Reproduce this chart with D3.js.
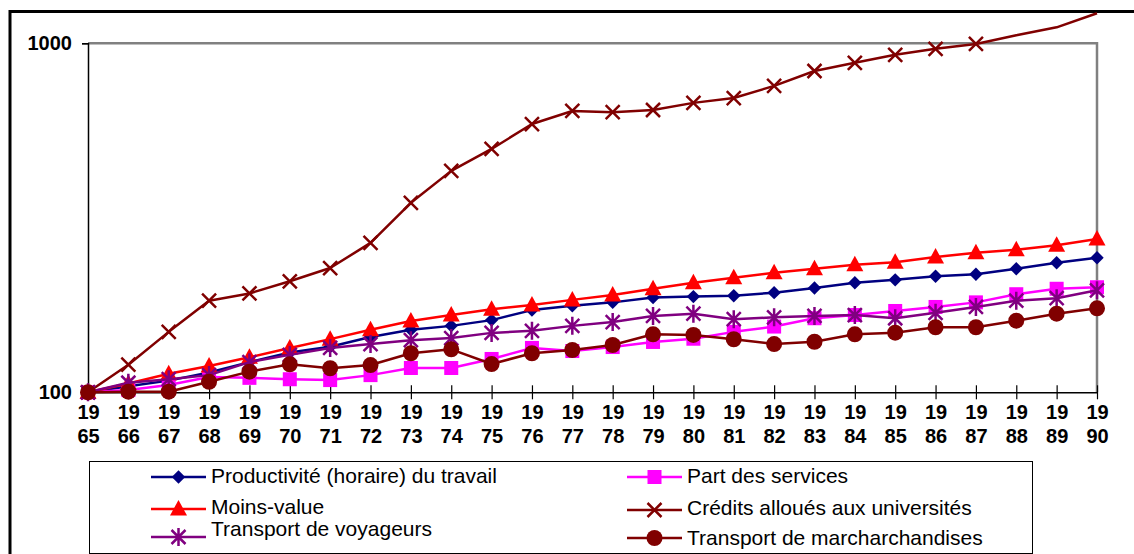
<!DOCTYPE html>
<html>
<head>
<meta charset="utf-8">
<script src="https://cdn.jsdelivr.net/npm/d3@7"></script>
<style>
  body { margin: 0; background: #fff; }
  text { font-family: "Liberation Sans", Arial, sans-serif; }
</style>
</head>
<body>
<div id="canvas"></div>
<script>
"use strict"

/* data (index, 1965 = 100) */
let years = ["1965","1966","1967","1968","1969","1970","1971","1972","1973","1974","1975","1976","1977",
             "1978","1979","1980","1981","1982","1983","1984","1985","1986","1987","1988","1989","1990"];

let productivite = [100,104,108,114,122,130,135,144,151,155,161,172,177,181,187,188,189,193,199,206,210,215,218,226,235,243];
let partServices = [100,101.5,105,110.6,110,109,108.4,112,117.4,117.4,124.6,134,131.3,134.8,139.4,142.4,149,154.3,163,166.5,171,175.6,181,191,198,200];
let moinsValue   = [100,106,113,119,126,134,142,151,160,166.5,173,178,184,190,198,206,213,220,226,232,236,244,251,256,264,275];
let credits      = [100,120,149,183,192,208,227,268,349,431,498,587,640,635,644,675,697,755,833,879,927,964,996,1054,1111,1219];
let voyageurs    = [100,106.5,109,112,122,128,134,137.5,141,143,148,150,155,159,165.5,168,162,164,165.5,166.5,163,169,175.6,183,186,196];
let marchandises = [100,100.4,100.4,107.2,114.6,120.3,117.2,119.7,129.4,132.8,120.5,129.4,132.2,136.6,146.6,146,141.9,137.5,139.6,146.6,148.2,153.6,153.6,160.4,168,174];

let yTicks = [100, 1000];

let series = [
    { name: "Productivité (horaire) du travail", values: productivite, color: "#000080", marker: "diamond" },
    { name: "Part des services", values: partServices, color: "#FF00FF", marker: "square" },
    { name: "Moins-value", values: moinsValue, color: "#FF0000", marker: "triangle" },
    { name: "Crédits alloués aux universités", values: credits, color: "#800000", marker: "cross" },
    { name: "Transport de voyageurs", values: voyageurs, color: "#800080", marker: "star" },
    { name: "Transport de marcharchandises", values: marchandises, color: "#800000", marker: "circle" }
];

let drawing = d3.select("#canvas")
    .append("svg")
    .attr("width", 1134)
    .attr("height", 554);

/* outer frame, runs off the right and bottom edges */
drawing.append("rect")
    .attr("x", 10)
    .attr("y", 11.5)
    .attr("width", 1200)
    .attr("height", 600)
    .attr("fill", "#fff")
    .attr("stroke", "black")
    .attr("stroke-width", 3);

let x = d3.scalePoint().domain(years).range([88, 1097]);
let y = d3.scaleLog().domain([100, 1000]).range([392.3, 43.3]);

/* plot area border (grey top and right) */
drawing.append("path")
    .attr("d", "M88,43.3H1097V392.3")
    .attr("fill", "none")
    .attr("stroke", "#808080")
    .attr("stroke-width", 2.5);

/* y axis */
let yAxis = drawing.append("g")
    .attr("transform", "translate(88,0)")
    .call(d3.axisLeft(y).tickValues(yTicks).tickFormat(d3.format("d")).tickSize(6).tickPadding(10));
yAxis.select(".domain").attr("stroke", "#000").attr("stroke-width", 1.5);
yAxis.selectAll(".tick line").attr("stroke", "#000").attr("stroke-width", 1.2);
yAxis.selectAll(".tick text")
    .attr("font-family", "Liberation Sans, Arial, sans-serif")
    .attr("font-size", 20)
    .attr("font-weight", "bold")
    .attr("fill", "#000");

/* x axis with crossing ticks and two-line labels */
let xAxis = drawing.append("g")
    .attr("transform", "translate(0,392.3)")
    .call(d3.axisBottom(x).tickSize(6).tickSizeOuter(0));
xAxis.select(".domain").attr("stroke", "#000").attr("stroke-width", 1.5);
xAxis.selectAll(".tick line").attr("y1", -7).attr("y2", 7).attr("stroke", "#000").attr("stroke-width", 1.2);
xAxis.selectAll(".tick text").remove();
xAxis.selectAll(".tick").each(function(d) {
    let t = d3.select(this).append("text")
        .attr("text-anchor", "middle")
        .attr("font-family", "Liberation Sans, Arial, sans-serif")
        .attr("font-size", 20)
        .attr("font-weight", "bold")
        .attr("fill", "#000");
    t.append("tspan").attr("x", 0).attr("y", 27).text(d.slice(0, 2));
    t.append("tspan").attr("x", 0).attr("y", 51).text(d.slice(2));
});

/* marker shapes */
function drawMarker(g, type, cx, cy, color) {
    if (type === "diamond") {
        g.append("path").attr("d", d3.symbol(d3.symbolDiamond2, 115)())
            .attr("transform", "translate(" + cx + "," + cy + ")")
            .attr("fill", color);
    } else if (type === "square") {
        g.append("rect").attr("x", cx - 7).attr("y", cy - 7).attr("width", 14).attr("height", 14).attr("fill", color);
    } else if (type === "triangle") {
        g.append("path").attr("d", "M0,-9L8.5,6.5H-8.5Z")
            .attr("transform", "translate(" + cx + "," + cy + ")").attr("fill", color);
    } else if (type === "circle") {
        g.append("circle").attr("cx", cx).attr("cy", cy).attr("r", 8).attr("fill", color);
    } else if (type === "cross") {
        g.append("path").attr("d", "M-7,-7L7,7M7,-7L-7,7")
            .attr("transform", "translate(" + cx + "," + cy + ")")
            .attr("stroke", color).attr("stroke-width", 2.5);
    } else if (type === "star") {
        g.append("path").attr("d", "M-7,-7L7,7M7,-7L-7,7M0,-9V9")
            .attr("transform", "translate(" + cx + "," + cy + ")")
            .attr("stroke", color).attr("stroke-width", 2.5);
    }
}

let line = d3.line()
    .x((d, i) => x(years[i]))
    .y(d => y(d));

series.forEach(function(s) {
    let g = drawing.append("g");
    g.append("path")
        .attr("d", line(s.values))
        .attr("fill", "none")
        .attr("stroke", s.color)
        .attr("stroke-width", 2.5)
        .attr("stroke-linejoin", "round");
    s.values.forEach(function(v, i) {
        if (v <= 1000) drawMarker(g, s.marker, x(years[i]), y(v), s.color);
    });
});

/* legend */
drawing.append("rect")
    .attr("x", 89.5)
    .attr("y", 461.5)
    .attr("width", 943)
    .attr("height", 92)
    .attr("fill", "#fff")
    .attr("stroke", "#000")
    .attr("stroke-width", 1);

let legendPos = [
    { lx: 151, sy: 477, ty: 483 },
    { lx: 627, sy: 477, ty: 483 },
    { lx: 151, sy: 509, ty: 514 },
    { lx: 627, sy: 510, ty: 515 },
    { lx: 151, sy: 537, ty: 536 },
    { lx: 627, sy: 538, ty: 545 }
];

series.forEach(function(s, i) {
    let p = legendPos[i];
    let g = drawing.append("g");
    g.append("line")
        .attr("x1", p.lx).attr("x2", p.lx + 55)
        .attr("y1", p.sy).attr("y2", p.sy)
        .attr("stroke", s.color).attr("stroke-width", 2.5);
    drawMarker(g, s.marker, p.lx + 27.5, p.sy, s.color);
    g.append("text")
        .attr("x", p.lx + 60)
        .attr("y", p.ty)
        .attr("font-size", 21)
        .attr("fill", "#000")
        .text(s.name);
});
</script>
</body>
</html>
